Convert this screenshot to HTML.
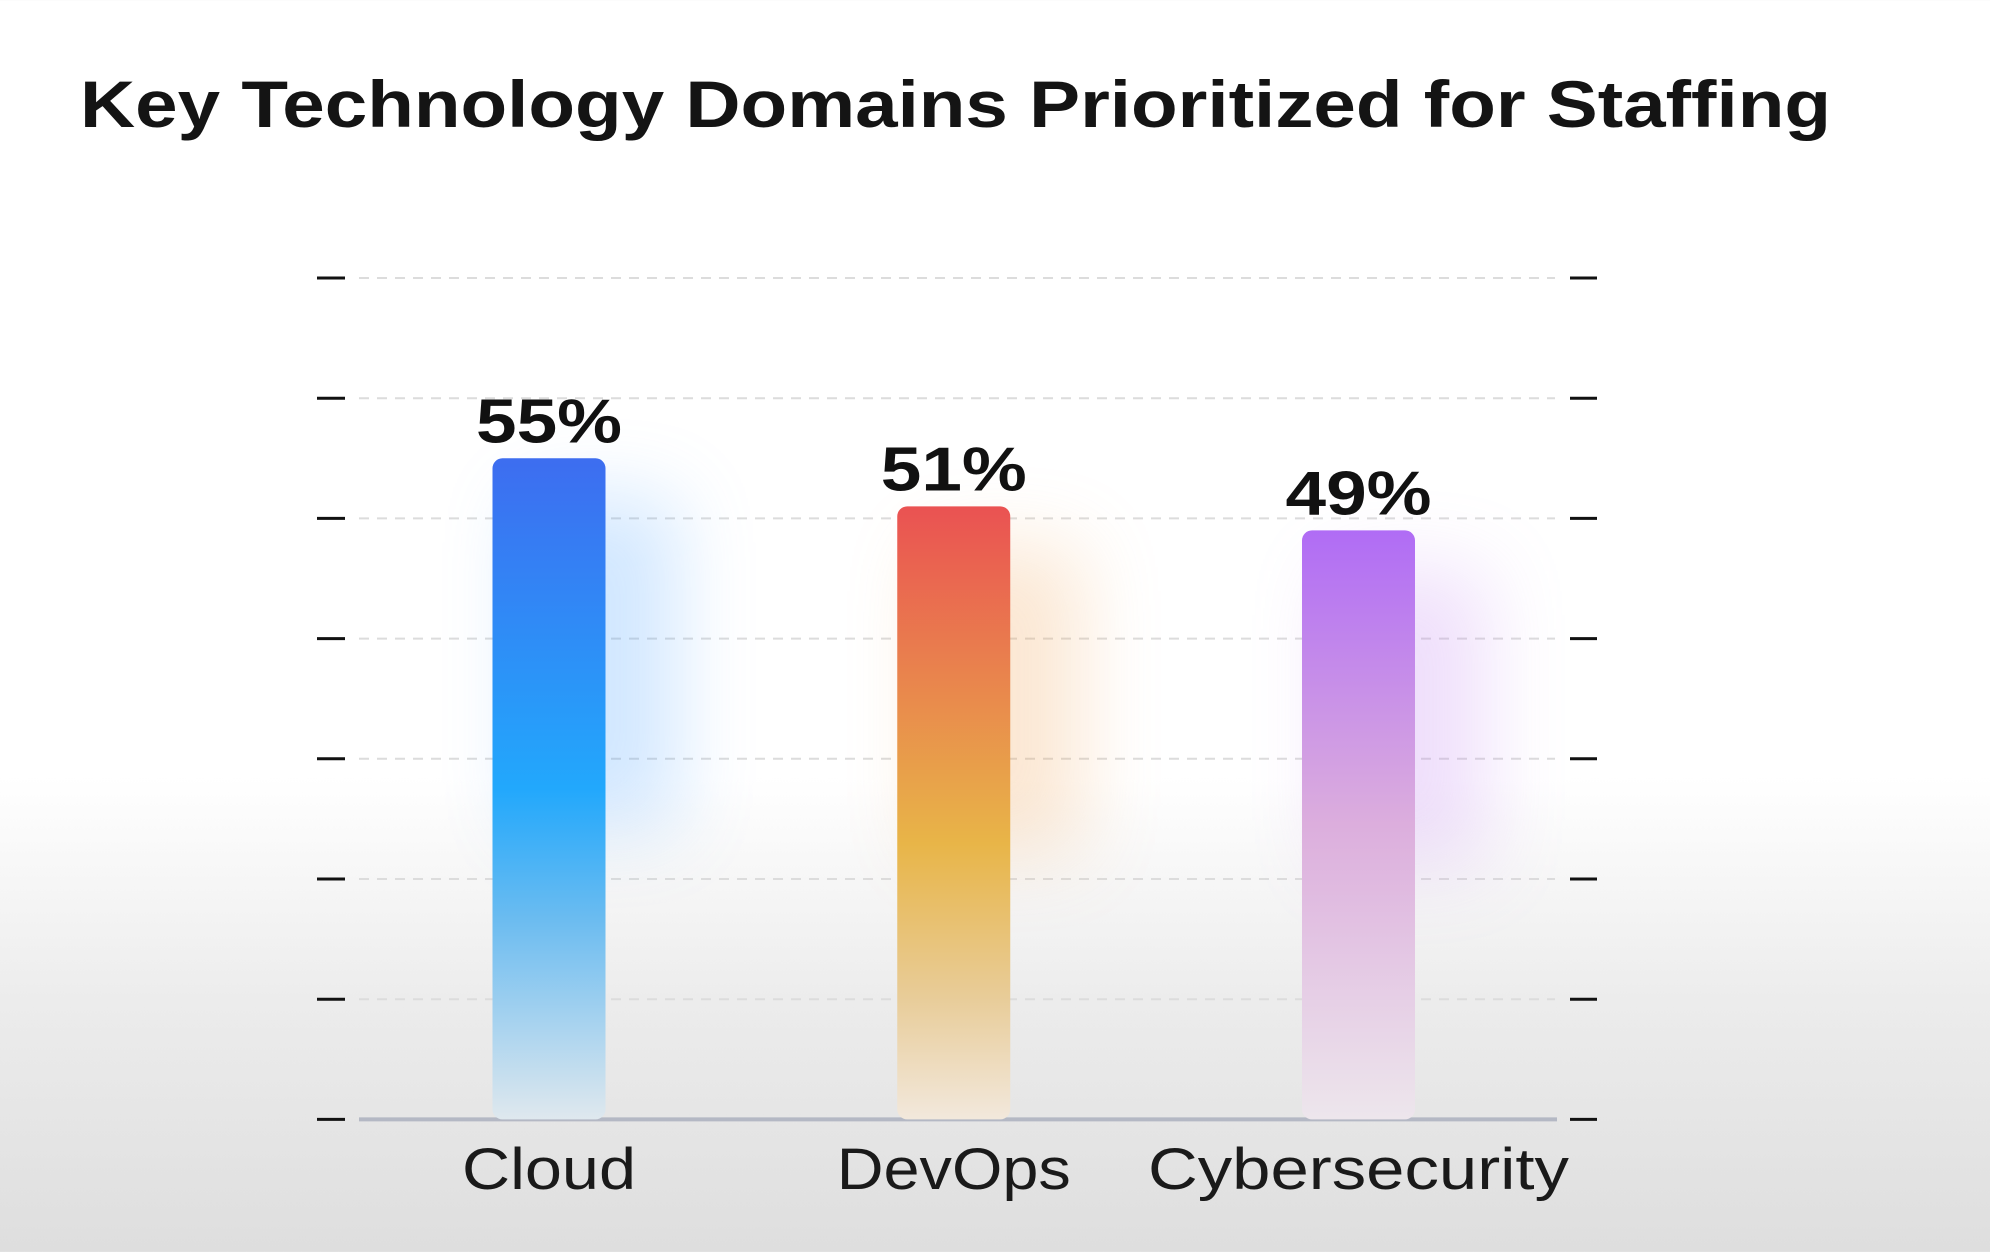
<!DOCTYPE html>
<html><head><meta charset="utf-8"><style>
html,body{margin:0;padding:0;width:1990px;height:1252px;overflow:hidden;}
body{background:linear-gradient(to bottom,#ffffff 0%,#ffffff 62%,#ececec 80%,#dedede 100%);font-family:"Liberation Sans",sans-serif;}
</style></head><body>
<svg id="chart" width="1990" height="1252" xmlns="http://www.w3.org/2000/svg">
<defs>
<linearGradient id="g0" x1="0" y1="0" x2="0" y2="1"><stop offset="0" stop-color="#3d6df0"/><stop offset="0.5" stop-color="#22a8fc"/><stop offset="0.7" stop-color="#6cbcf0"/><stop offset="1" stop-color="#dfe8ee"/></linearGradient>
<linearGradient id="g1" x1="0" y1="0" x2="0" y2="1"><stop offset="0" stop-color="#ea5252"/><stop offset="0.55" stop-color="#e8b548"/><stop offset="0.8" stop-color="#e8cc98"/><stop offset="1" stop-color="#f2e8dc"/></linearGradient>
<linearGradient id="g2" x1="0" y1="0" x2="0" y2="1"><stop offset="0" stop-color="#b06cf5"/><stop offset="0.5" stop-color="#dcaedd"/><stop offset="1" stop-color="#ede6ec"/></linearGradient>
<filter id="blur" x="-100%" y="-50%" width="300%" height="200%"><feGaussianBlur stdDeviation="40"/></filter>
</defs>
<text x="80" y="127" font-size="66" font-weight="bold" fill="#141414" textLength="1751" lengthAdjust="spacingAndGlyphs">Key Technology Domains Prioritized for Staffing</text>
<g id="grid"></g><g id="bars"></g>
</svg>
<script>
const categories=["Cloud","DevOps","Cybersecurity"];
const values=[55,51,49];
const valueLabels=["55%","51%","49%"];
const tickValues=[0,10,20,30,40,50,60,70];
const y0=1119.4, pxPer=12.02;
function yScale(v){return y0-v*pxPer;}
const centers0=549, step=404.75;
function xScale(i){return centers0+i*step;}
const catWidths=[174,234,421];
const ns="http://www.w3.org/2000/svg";
const grid=document.getElementById('grid'), bars=document.getElementById('bars');
function mk(t,a,p){const e=document.createElementNS(ns,t);for(const k in a)e.setAttribute(k,a[k]);p.appendChild(e);return e;}
tickValues.forEach(v=>{
  const y=yScale(v);
  if(v>0){const l=mk('line',{x1:359,x2:1555,y1:y,y2:y,stroke:'#dcdcdc','stroke-width':2,'stroke-dasharray':'10 8'},grid);
  
  }
  const a=mk('line',{x1:317,x2:345,y1:y,y2:y,stroke:'#111','stroke-width':3},grid);
  
  
  const b=mk('line',{x1:1570,x2:1597,y1:y,y2:y,stroke:'#111','stroke-width':3},grid);
  
  
});
const base=mk('line',{x1:359,x2:1557,y1:y0,y2:y0,stroke:'#b4b8c4','stroke-width':4},grid);


const glowCols=["#4aa0ff","#f0a050","#c080f0"];
categories.forEach((c,i)=>{
  const cx=xScale(i), top=yScale(values[i]), w=113;
  const g=mk('rect',{x:cx-w/2+30,y:top+40,width:w+40,height:(y0-top)*0.5,fill:glowCols[i],opacity:0.25,filter:'url(#blur)'},bars);
  
  
  const r=mk('rect',{x:cx-w/2,y:top,width:w,height:y0-top,rx:10,fill:'url(#g'+i+')'},bars);
  
  
  const t=mk('text',{x:cx,y:top-16,'text-anchor':'middle','font-size':62,'font-weight':'bold',fill:'#111',textLength:146,lengthAdjust:'spacingAndGlyphs'},bars);
  t.textContent=valueLabels[i];
  
  
  const l=mk('text',{x:cx,y:1189,'text-anchor':'middle','font-size':58,fill:'#1a1a1a',textLength:catWidths[i],lengthAdjust:'spacingAndGlyphs'},bars);
  l.textContent=c;
  
  
});
</script>
</body></html>
